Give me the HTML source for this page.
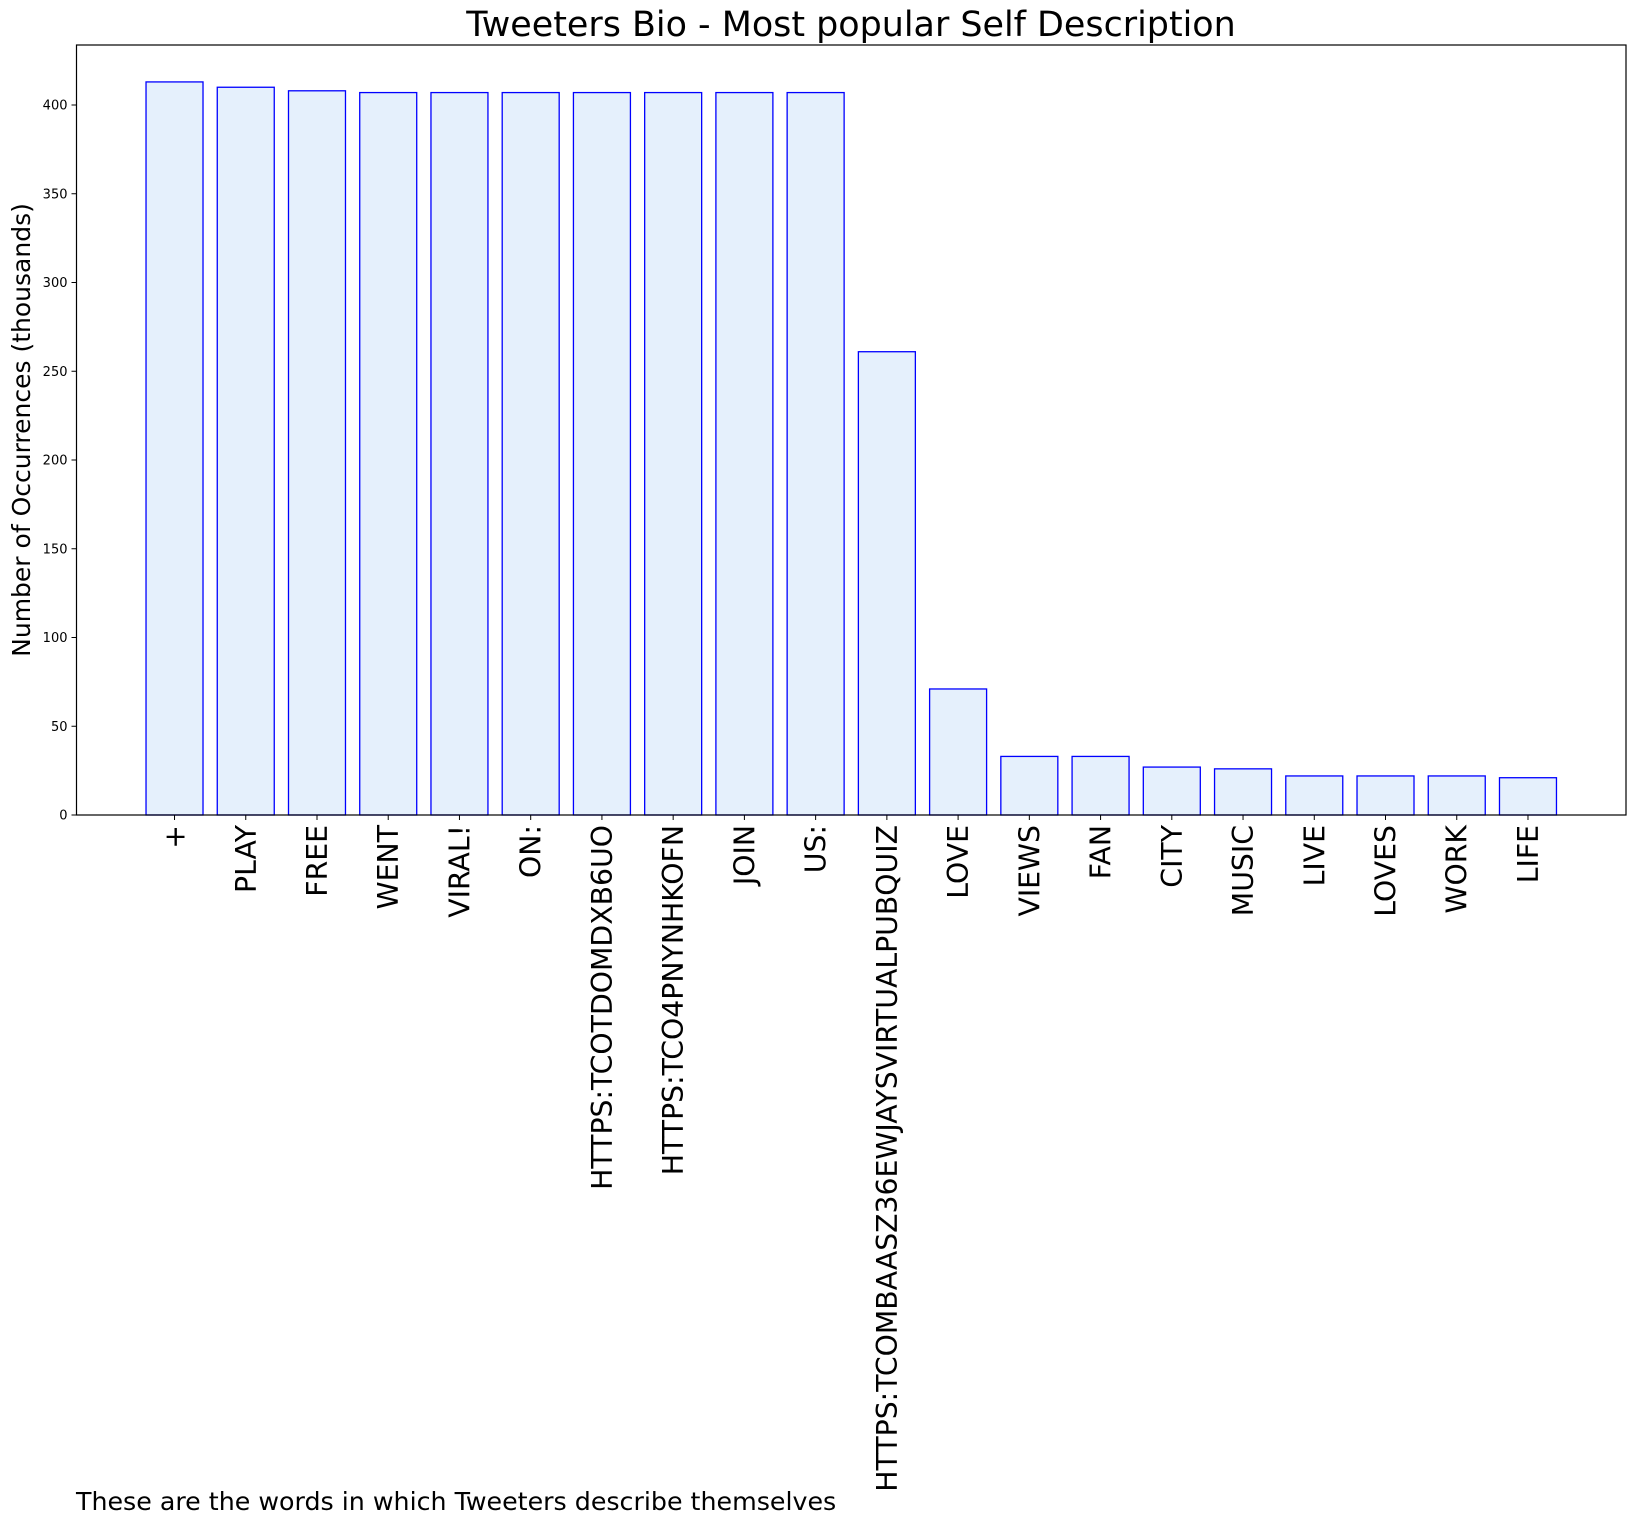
<!DOCTYPE html>
<html><head><meta charset="utf-8"><style>
body{margin:0;background:#fff;}
svg{display:block;font-family:"DejaVu Sans","Liberation Sans",sans-serif;}
</style></head><body>
<svg id="chart" width="1635" height="1525" viewBox="0 0 1635 1525">
<text x="851" y="36" font-size="34.9" text-anchor="middle">Tweeters Bio - Most popular Self Description</text>
<g id="plot"></g>
<text transform="translate(30,430) rotate(-90)" font-size="25" text-anchor="middle">Number of Occurrences (thousands)</text>
<text x="76" y="1510" font-size="25.3">These are the words in which Tweeters describe themselves</text>
</svg>
<script>
const categories=["+","PLAY","FREE","WENT","VIRAL!","ON:","HTTPS:TCOTDOMDXB6UO","HTTPS:TCO4PNYNHKOFN","JOIN","US:","HTTPS:TCOMBAASZ36EWJAYSVIRTUALPUBQUIZ","LOVE","VIEWS","FAN","CITY","MUSIC","LIVE","LOVES","WORK","LIFE"];
const values=[413,410,408,407,407,407,407,407,407,407,261,71,33,33,27,26,22,22,22,21];
const yTicks=[0,50,100,150,200,250,300,350,400];
const NS="http://www.w3.org/2000/svg";
const L=76.5,R=1626,T=45,B=815;
const xmin=-1.376,xmax=categories.length+0.376;
const ymax=(B-T)/((B-105)/400);
const xs=i=>L+(i-xmin)/(xmax-xmin)*(R-L);
const bw=0.8*(R-L)/(xmax-xmin);
const ys=v=>B-v/ymax*(B-T);
const g=document.getElementById('plot');
function mk(t,a){const e=document.createElementNS(NS,t);for(const k in a)e.setAttribute(k,a[k]);g.appendChild(e);return e;}
values.forEach((v,i)=>{
 const r=mk('rect',{x:xs(i)-bw/2,y:ys(v),width:bw,height:B-ys(v),fill:'#e5f0fc',stroke:'#0000ff','stroke-width':1.3});
 
 
 const tk=mk('line',{x1:xs(i),x2:xs(i),y1:B,y2:B+5,stroke:'#000'});
 
 
 const t=mk('text',{transform:`translate(${xs(i)+10},${B+10}) rotate(-90)`,'font-size':28.3,'text-anchor':'end'});
 t.textContent=categories[i];
 
 
});
yTicks.forEach(v=>{
 const tk=mk('line',{x1:L-5,x2:L,y1:ys(v),y2:ys(v),stroke:'#000'});
 
 
 const t=mk('text',{x:L-9,y:ys(v)+4.5,'font-size':13,'text-anchor':'end'});
 t.textContent=v;
 
 
});
const f=mk('rect',{x:L,y:T,width:R-L,height:B-T,fill:'none',stroke:'#000','stroke-width':1.2});


</script>
</body></html>
